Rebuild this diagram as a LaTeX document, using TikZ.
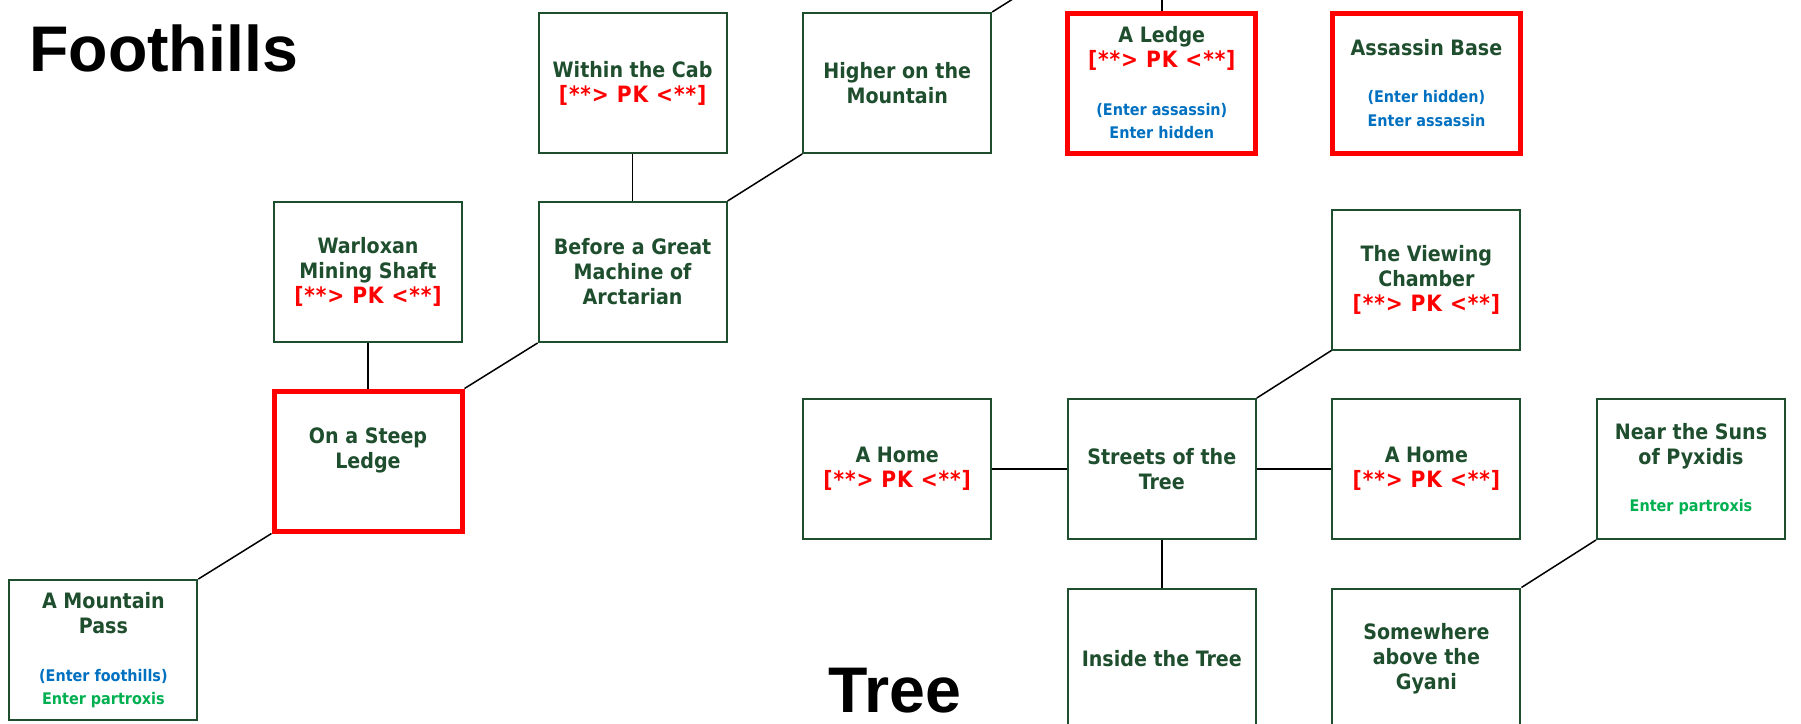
\documentclass[tikz,border=0pt]{standalone}
\usepackage{fontspec}
\usetikzlibrary{calc}
\newfontfamily\roomfont{DejaVu Sans Condensed}
\newfontfamily\titlefont{Liberation Sans}
\definecolor{roomgreen}{RGB}{30,78,45}
\definecolor{pkred}{RGB}{255,0,0}
\definecolor{hidblue}{RGB}{0,112,192}
\definecolor{exitgreen}{RGB}{0,176,80}
\newcommand{\pk}{{\color{pkred}\fontsize{22.5}{25}\selectfont\addfontfeature{LetterSpace=4}[**> PK <**]}}
\newcommand{\hid}[1]{{\color{hidblue}\fontsize{16}{20}\selectfont #1}}
\newcommand{\ext}[1]{{\color{exitgreen}\fontsize{16}{20}\selectfont #1}}
\tikzset{
  room/.style={draw=roomgreen, line width=2pt, minimum width=188pt, minimum height=140pt,
    inner sep=0pt, align=center, text=roomgreen,
    font=\roomfont\bfseries\fontsize{21.2}{25}\selectfont},
  pkroom/.style={room, draw=pkred, line width=5pt},
  link/.style={draw=black, line width=1.5pt},
  area/.style={inner sep=0pt, font=\titlefont\bfseries\fontsize{64.5}{70}\selectfont, anchor=base west},
}
\begin{document}
\begin{tikzpicture}[x=1pt, y=-1pt]
\useasboundingbox (0,0) rectangle (1801,723);
\clip (0,0) rectangle (1801,723);
% area titles
\node[area] (foothills) at (29,71) {Foothills};
\node[area] (treetitle) at (828,712.7) {Tree};
% Foothills rooms
\node[room]   (cab)       at (632.6,83)    {Within the Cab\\\pk};
\node[room]   (higher)    at (897.2,83)    {Higher on the\\Mountain};
\node[pkroom] (ledge)     at (1161.8,83)   {A Ledge\\\pk\\[23pt]\hid{(Enter assassin)}\\[-2pt]\hid{Enter hidden}};
\node[pkroom] (assassin)  at (1426.4,83)   {Assassin Base\\[22pt]\hid{(Enter hidden)}\\[-1pt]\hid{Enter assassin}};
\node[room]   (warloxan)  at (368,272)     {Warloxan\\Mining Shaft\\\pk};
\node[room]   (machine)   at (632.6,272)   {Before a Great\\Machine of\\Arctarian};
\node[pkroom] (steep)     at (368,461)     {On a Steep\\Ledge\\\mbox{}};
\node[room]   (pass)      at (103.4,650)   {A Mountain\\Pass\\[23pt]\hid{(Enter foothills)}\\[-2pt]\ext{Enter partroxis}};
% Tree rooms
\node[room]   (viewing)   at (1426.4,279.5) {The Viewing\\Chamber\\\pk};
\node[room]   (homeleft)  at (897.2,469)   {A Home\\\pk};
\node[room]   (streets)   at (1161.8,469)  {Streets of the\\Tree};
\node[room]   (homeright) at (1426.4,469)  {A Home\\\pk};
\node[room]   (suns)      at (1691,469)    {Near the Suns\\of Pyxidis\\[22pt]\ext{Enter partroxis}};
\node[room]   (inside)    at (1161.8,658.5) {Inside the Tree};
\node[room]   (gyani)     at (1426.4,658.5) {Somewhere\\above the\\Gyani};
% exits leaving the sheet
\coordinate (higherexit) at ($(higher.north east)+(74.6,-47)$);
\coordinate (ledgeexit) at ($(ledge.north)+(0,-40)$);
% connections
\draw[link] (cab.south) -- (machine.north);
\draw[link] (machine.north east) -- (higher.south west);
\draw[link] (higher.north east) -- (higherexit);
\draw[link] (ledge.north) -- (ledgeexit);
\draw[link] (warloxan.south) -- (steep.north);
\draw[link] (steep.north east) -- (machine.south west);
\draw[link] (pass.north east) -- (steep.south west);
\draw[link] (homeleft.east) -- (streets.west);
\draw[link] (streets.east) -- (homeright.west);
\draw[link] (streets.north east) -- (viewing.south west);
\draw[link] (streets.south) -- (inside.north);
\draw[link] (gyani.north east) -- (suns.south west);
\end{tikzpicture}
\end{document}
